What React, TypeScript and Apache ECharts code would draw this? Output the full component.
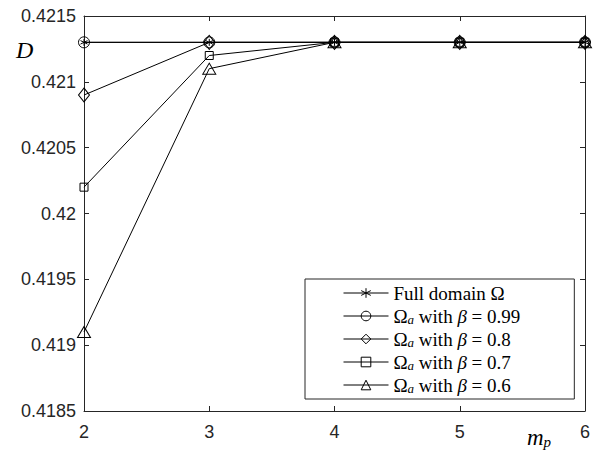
import React, { useEffect, useRef } from "react";
import * as echarts from "echarts";

// Number of projection modes m_p on the horizontal axis
const mp = [2, 3, 4, 5, 6];

// D for the full domain and for the reduced domains Ω_a at several β
const fullDomain = [0.4213, 0.4213, 0.4213, 0.4213, 0.4213];
const beta099 = [0.4213, 0.4213, 0.4213, 0.4213, 0.4213];
const beta08 = [0.4209, 0.4213, 0.4213, 0.4213, 0.4213];
const beta07 = [0.4202, 0.4212, 0.4213, 0.4213, 0.4213];
const beta06 = [0.4191, 0.4211, 0.4213, 0.4213, 0.4213];

const seriesNames = [
  "Full domain Ω",
  "Ω_a with β = 0.99",
  "Ω_a with β = 0.8",
  "Ω_a with β = 0.7",
  "Ω_a with β = 0.6",
];

const legendRich: Record<string, string> = {
  "Full domain Ω": "{t|Full domain Ω}",
  "Ω_a with β = 0.99": "{t|Ω}{s|a}{t| with }{b|β}{t| = 0.99}",
  "Ω_a with β = 0.8": "{t|Ω}{s|a}{t| with }{b|β}{t| = 0.8}",
  "Ω_a with β = 0.7": "{t|Ω}{s|a}{t| with }{b|β}{t| = 0.7}",
  "Ω_a with β = 0.6": "{t|Ω}{s|a}{t| with }{b|β}{t| = 0.6}",
};

const AXIS = "#262626";
const SERIF = "'Liberation Serif', 'DejaVu Serif', serif";
const SANS = "'Liberation Sans', Arial, sans-serif";

const asterisk = "path://M5,0L5,10M0.7,2.5L9.3,7.5M0.7,7.5L9.3,2.5";

function lineSeries(name: string, values: number[], symbol: string, size: number | number[]) {
  return {
    name,
    type: "line",
    data: mp.map((x, i) => [x, values[i]]),
    symbol,
    symbolSize: size,
    showSymbol: true,
    lineStyle: { color: "#000", width: 1 },
    itemStyle: { color: "transparent", borderColor: "#000", borderWidth: 1 },
    emphasis: { disabled: true },
  };
}

export default function App() {
  const ref = useRef<HTMLDivElement>(null);

  useEffect(() => {
    if (!ref.current) return;
    const chart = echarts.init(ref.current, undefined, { renderer: "svg" });

    const tickFmt = (v: number) => String(Number(v.toFixed(4)));

    const xBase = {
      type: "value",
      min: 2,
      max: 6,
      interval: 1,
      splitLine: { show: false },
      axisLine: { show: true, lineStyle: { color: AXIS, width: 1 } },
      axisTick: { show: true, inside: true, length: 5, lineStyle: { color: AXIS } },
    };
    const yBase = {
      type: "value",
      min: 0.4185,
      max: 0.4215,
      interval: 0.0005,
      splitLine: { show: false },
      axisLine: { show: true, lineStyle: { color: AXIS, width: 1 } },
      axisTick: { show: true, inside: true, length: 5, lineStyle: { color: AXIS } },
    };

    chart.setOption({
      animation: false,
      backgroundColor: "#fff",
      grid: { left: 84, top: 16, right: 20, bottom: 45 },
      xAxis: [
        {
          ...xBase,
          position: "bottom",
          axisLabel: { color: AXIS, fontFamily: SANS, fontSize: 18, margin: 12, formatter: tickFmt },
        },
        { ...xBase, position: "top", axisLabel: { show: false } },
      ],
      yAxis: [
        {
          ...yBase,
          position: "left",
          axisLabel: { color: AXIS, fontFamily: SANS, fontSize: 18, margin: 8, formatter: tickFmt },
        },
        { ...yBase, position: "right", axisLabel: { show: false } },
      ],
      legend: {
        data: seriesNames,
        orient: "vertical",
        left: 305,
        top: 279,
        itemWidth: 45,
        itemHeight: 12,
        itemGap: 3,
        padding: [4, 54, 4, 38],
        borderColor: AXIS,
        borderWidth: 1,
        backgroundColor: "#fff",
        selectedMode: false,
        lineStyle: { width: 1, color: "#000" },
        itemStyle: { color: "transparent", borderColor: "#000", borderWidth: 1 },
        formatter: (name: string) => legendRich[name],
        textStyle: {
          color: "#000",
          fontFamily: SERIF,
          fontSize: 19,
          lineHeight: 20,
          rich: {
            t: { fontFamily: SERIF, fontSize: 19, lineHeight: 20, color: "#000" },
            b: { fontFamily: SERIF, fontSize: 19, lineHeight: 20, fontStyle: "italic", color: "#000" },
            s: {
              fontFamily: SERIF,
              fontSize: 13,
              lineHeight: 11,
              fontStyle: "italic",
              color: "#000",
              verticalAlign: "bottom",
            },
          },
        },
      },
      graphic: [
        {
          type: "text",
          left: 16,
          top: 38,
          style: { text: "D", font: `italic 24px ${SERIF}`, fill: "#000" },
        },
        {
          type: "text",
          left: 527,
          top: 426,
          style: {
            text: "{m|m}{p|p}",
            rich: {
              m: { fontFamily: SERIF, fontSize: 23, lineHeight: 24, fontStyle: "italic", fill: "#000" },
              p: {
                fontFamily: SERIF,
                fontSize: 15,
                lineHeight: 14,
                fontStyle: "italic",
                fill: "#000",
                verticalAlign: "bottom",
              },
            },
          },
        },
      ],
      series: [
        lineSeries(seriesNames[0], fullDomain, asterisk, 7),
        lineSeries(seriesNames[1], beta099, "circle", 11),
        lineSeries(seriesNames[2], beta08, "diamond", [11, 14]),
        lineSeries(seriesNames[3], beta07, "rect", 8),
        lineSeries(seriesNames[4], beta06, "triangle", [13, 11]),
      ],
    });

    return () => chart.dispose();
  }, []);

  return (
    <div
      ref={ref}
      style={{ position: "fixed", left: 0, top: 0, width: 605, height: 456 }}
    />
  );
}
